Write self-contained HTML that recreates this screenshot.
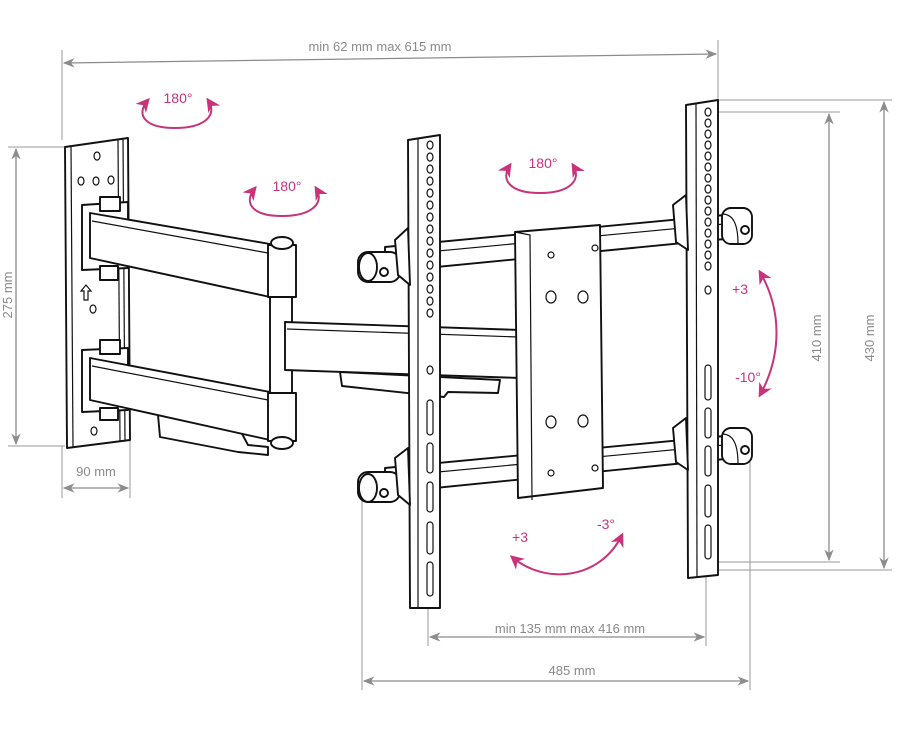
<!DOCTYPE html>
<html><head><meta charset="utf-8"><style>
html,body{margin:0;padding:0;background:#fff;width:900px;height:737px;overflow:hidden}
svg{display:block}
.d{stroke:#8c8c8c;stroke-width:1.3;fill:none}
.e{stroke:#9a9a9a;stroke-width:1;fill:none}
.k{stroke:#111;stroke-width:1.9;fill:#fff;stroke-linejoin:round}
.kt{stroke:#111;stroke-width:1.2;fill:none}
.p{stroke:#c8337a;stroke-width:2;fill:none}
.dt{font-family:"Liberation Sans",sans-serif;font-size:13px;fill:#8a8a8a}
.pt{font-family:"Liberation Sans",sans-serif;font-size:14px;fill:#c8337a}
</style></head><body>
<svg width="900" height="737" viewBox="0 0 900 737">
<defs>
<marker id="ag" viewBox="0 0 10 10" refX="9" refY="5" markerWidth="9" markerHeight="9" orient="auto-start-reverse"><path d="M0,1 L10,5 L0,9 L3,5z" fill="#8c8c8c"/></marker>
<marker id="ap" viewBox="0 0 10 10" refX="8" refY="5" markerWidth="7" markerHeight="7" orient="auto-start-reverse"><path d="M0,0 L10,5 L0,10 L3,5z" fill="#c8337a"/></marker>
</defs>

<!-- dimension lines -->
<line class="e" x1="62" y1="50" x2="62" y2="140"/>
<line class="e" x1="718" y1="40" x2="718" y2="100"/>
<line class="d" x1="64" y1="63" x2="716" y2="54" marker-start="url(#ag)" marker-end="url(#ag)"/>
<text class="dt" x="380" y="51" text-anchor="middle">min 62 mm max 615 mm</text>

<line class="e" x1="8" y1="147" x2="65" y2="147"/>
<line class="e" x1="8" y1="446" x2="65" y2="446"/>
<line class="d" x1="16" y1="149" x2="16" y2="444" marker-start="url(#ag)" marker-end="url(#ag)"/>
<text class="dt" transform="translate(12,295) rotate(-90)" text-anchor="middle">275 mm</text>

<line class="e" x1="62" y1="446" x2="62" y2="498"/>
<line class="e" x1="130" y1="440" x2="130" y2="498"/>
<line class="d" x1="64" y1="488" x2="128" y2="488" marker-start="url(#ag)" marker-end="url(#ag)"/>
<text class="dt" x="96" y="476" text-anchor="middle">90 mm</text>

<line class="e" x1="718" y1="100" x2="892" y2="100"/>
<line class="e" x1="712" y1="112" x2="840" y2="112"/>
<line class="e" x1="712" y1="562" x2="840" y2="562"/>
<line class="e" x1="718" y1="570" x2="892" y2="570"/>
<line class="d" x1="829" y1="114" x2="829" y2="560" marker-start="url(#ag)" marker-end="url(#ag)"/>
<line class="d" x1="884" y1="102" x2="884" y2="568" marker-start="url(#ag)" marker-end="url(#ag)"/>
<text class="dt" transform="translate(821,338) rotate(-90)" text-anchor="middle">410 mm</text>
<text class="dt" transform="translate(874,338) rotate(-90)" text-anchor="middle">430 mm</text>

<line class="e" x1="428" y1="600" x2="428" y2="646"/>
<line class="e" x1="706" y1="570" x2="706" y2="646"/>
<line class="d" x1="430" y1="637" x2="704" y2="637" marker-start="url(#ag)" marker-end="url(#ag)"/>
<text class="dt" x="570" y="633" text-anchor="middle">min 135 mm max 416 mm</text>
<line class="e" x1="362" y1="495" x2="362" y2="690"/>
<line class="e" x1="750" y1="462" x2="750" y2="690"/>
<line class="d" x1="364" y1="681" x2="748" y2="681" marker-start="url(#ag)" marker-end="url(#ag)"/>
<text class="dt" x="572" y="675" text-anchor="middle">485 mm</text>

<!-- wall plate -->
<path class="k" d="M65,147 L128,138 L130,440 L67,448 Z"/>
<line class="kt" x1="71" y1="147" x2="73" y2="447"/>
<line class="kt" x1="118" y1="140" x2="120" y2="442"/>
<line class="kt" x1="123" y1="139" x2="125" y2="441"/>
<g class="kt"><ellipse cx="97" cy="156" rx="3" ry="4"/><ellipse cx="81" cy="181" rx="3" ry="4"/><ellipse cx="96" cy="181" rx="3" ry="4"/><ellipse cx="111" cy="180" rx="3" ry="4"/><ellipse cx="93" cy="309" rx="3" ry="4"/><ellipse cx="94" cy="431" rx="3" ry="4"/></g>
<path class="kt" d="M84,300 L84,291 L81,291 L86,285 L91,291 L88,291 L88,300 Z"/>
<path class="k" d="M82,205 L128,202 L128,268 L82,270 Z"/>
<path class="k" d="M82,350 L128,348 L128,410 L82,412 Z"/>
<rect class="k" x="100" y="197" width="20" height="14"/>
<rect class="k" x="100" y="266" width="18" height="14"/>
<rect class="k" x="100" y="340" width="20" height="14"/>
<rect class="k" x="100" y="408" width="18" height="12"/>
<path class="k" d="M158,415 L240,430 L248,445 L268,447 L268,455 L238,452 L160,437 Z"/>
<!-- upper arm -->
<path class="k" d="M90,213 L270,244 L270,297 L90,258 Z"/>
<line class="kt" x1="92" y1="221" x2="268" y2="253"/>
<rect class="k" x="270" y="296" width="22" height="98"/>
<!-- middle arm -->
<path class="k" d="M285,322 L520,330 L520,378 L285,370 Z"/>
<line class="kt" x1="287" y1="329" x2="518" y2="337"/>
<path class="k" d="M340,372 L500,380 L498,393 L448,392 L444,397 L342,386 Z"/>
<!-- lower arm -->
<path class="k" d="M90,358 L270,392 L270,440 L90,400 Z"/>
<line class="kt" x1="92" y1="366" x2="268" y2="400"/>
<rect class="k" x="268" y="245" width="28" height="52"/>
<rect class="k" x="268" y="393" width="28" height="48"/>
<ellipse class="k" cx="282" cy="243" rx="11" ry="6"/>
<ellipse class="k" cx="282" cy="443" rx="11" ry="6"/>

<!-- crossbars -->
<path class="k" d="M385,247 L735,214 L735,238 L385,272 Z"/>
<line class="kt" x1="385" y1="256" x2="735" y2="223"/>
<path class="k" d="M385,468 L735,435 L735,458 L385,493 Z"/>
<line class="kt" x1="385" y1="477" x2="735" y2="444"/>
<!-- end caps -->
<rect class="k" x="358" y="252" width="42" height="30" rx="10"/>
<ellipse class="k" cx="368" cy="267" rx="9" ry="14"/>
<circle class="k" cx="384" cy="272" r="4"/>
<rect class="k" x="358" y="472" width="42" height="30" rx="10"/>
<ellipse class="k" cx="368" cy="488" rx="9" ry="14"/>
<circle class="k" cx="384" cy="493" r="4"/>

<!-- central plate -->
<path class="k" d="M515,232 L600,225 L603,488 L518,498 Z"/>
<path class="kt" d="M515,232 L530,235 L532,500"/>
<g class="kt"><circle cx="551" cy="255" r="3"/><circle cx="595" cy="248" r="3"/><ellipse cx="551" cy="297" rx="5" ry="6"/><ellipse cx="583" cy="297" rx="5" ry="6"/><ellipse cx="551" cy="422" rx="5" ry="6"/><ellipse cx="583" cy="421" rx="5" ry="6"/><circle cx="551" cy="473" r="3"/><circle cx="595" cy="468" r="3"/></g>

<!-- left rail -->
<path class="k" d="M408,140 L440,135 L440,608 L410,608 Z"/>
<line class="kt" x1="418" y1="138" x2="418" y2="607"/>
<path class="k" d="M395,240 L408,228 L410,285 L398,275 Z"/>
<path class="k" d="M395,458 L408,448 L410,505 L398,495 Z"/>
<g class="kt">
<ellipse cx="430" cy="145" rx="3" ry="4"/><ellipse cx="430" cy="157" rx="3" ry="4"/><ellipse cx="430" cy="169" rx="3" ry="4"/><ellipse cx="430" cy="181" rx="3" ry="4"/><ellipse cx="430" cy="193" rx="3" ry="4"/><ellipse cx="430" cy="205" rx="3" ry="4"/><ellipse cx="430" cy="217" rx="3" ry="4"/><ellipse cx="430" cy="229" rx="3" ry="4"/><ellipse cx="430" cy="241" rx="3" ry="4"/><ellipse cx="430" cy="253" rx="3" ry="4"/><ellipse cx="430" cy="265" rx="3" ry="4"/><ellipse cx="430" cy="277" rx="3" ry="4"/><ellipse cx="430" cy="289" rx="3" ry="4"/><ellipse cx="430" cy="301" rx="3" ry="4"/><ellipse cx="430" cy="313" rx="3" ry="4"/><ellipse cx="430" cy="370" rx="3" ry="4"/>
<rect x="427" y="400" width="6" height="35" rx="3"/><rect x="427" y="443" width="6" height="30" rx="3"/><rect x="427" y="482" width="6" height="30" rx="3"/><rect x="427" y="522" width="6" height="32" rx="3"/><rect x="427" y="562" width="6" height="34" rx="3"/>
</g>

<!-- right rail -->
<path class="k" d="M686,105 L718,100 L718,575 L688,578 Z"/>
<line class="kt" x1="696" y1="103" x2="697" y2="577"/>
<path class="k" d="M673,205 L686,195 L688,250 L676,242 Z"/>
<path class="k" d="M673,428 L686,418 L688,470 L676,462 Z"/>
<g class="kt">
<ellipse cx="708" cy="112" rx="3" ry="4"/><ellipse cx="708" cy="123" rx="3" ry="4"/><ellipse cx="708" cy="134" rx="3" ry="4"/><ellipse cx="708" cy="145" rx="3" ry="4"/><ellipse cx="708" cy="156" rx="3" ry="4"/><ellipse cx="708" cy="167" rx="3" ry="4"/><ellipse cx="708" cy="178" rx="3" ry="4"/><ellipse cx="708" cy="189" rx="3" ry="4"/><ellipse cx="708" cy="200" rx="3" ry="4"/><ellipse cx="708" cy="211" rx="3" ry="4"/><ellipse cx="708" cy="222" rx="3" ry="4"/><ellipse cx="708" cy="233" rx="3" ry="4"/><ellipse cx="708" cy="244" rx="3" ry="4"/><ellipse cx="708" cy="255" rx="3" ry="4"/><ellipse cx="708" cy="266" rx="3" ry="4"/><ellipse cx="708" cy="290" rx="3" ry="4"/>
<rect x="705" y="365" width="6" height="35" rx="3"/><rect x="705" y="408" width="6" height="30" rx="3"/><rect x="705" y="446" width="6" height="30" rx="3"/><rect x="705" y="485" width="6" height="32" rx="3"/><rect x="705" y="525" width="6" height="34" rx="3"/>
</g>
<!-- right caps -->
<rect class="k" x="722" y="208" width="30" height="36" rx="9"/>
<path class="kt" d="M722,214 C732,214 738,222 738,244"/>
<circle class="k" cx="745" cy="230" r="4"/>
<rect class="k" x="722" y="428" width="30" height="36" rx="9"/>
<path class="kt" d="M722,434 C732,434 738,442 738,464"/>
<circle class="k" cx="745" cy="450" r="4"/>

<!-- pink rotation arrows -->
<path class="p" d="M148,100 C135,115 145,128 175,128 C205,128 218,115 208,100" marker-start="url(#ap)" marker-end="url(#ap)"/>
<text class="pt" x="178" y="103" text-anchor="middle">180°</text>
<path class="p" d="M255,188 C243,203 252,216 282,216 C312,216 325,203 316,188" marker-start="url(#ap)" marker-end="url(#ap)"/>
<text class="pt" x="287" y="191" text-anchor="middle">180°</text>
<path class="p" d="M510,165 C500,180 510,193 540,193 C570,193 582,180 573,165" marker-start="url(#ap)" marker-end="url(#ap)"/>
<text class="pt" x="543" y="168" text-anchor="middle">180°</text>
<path class="p" d="M760,272 C782,310 782,355 760,395" marker-start="url(#ap)" marker-end="url(#ap)"/>
<text class="pt" x="740" y="294" text-anchor="middle">+3</text>
<text class="pt" x="748" y="382" text-anchor="middle">-10°</text>
<path class="p" d="M512,557 C545,585 600,580 622,535" marker-start="url(#ap)" marker-end="url(#ap)"/>
<text class="pt" x="520" y="542" text-anchor="middle">+3</text>
<text class="pt" x="606" y="529" text-anchor="middle">-3°</text>
</svg>
</body></html>
